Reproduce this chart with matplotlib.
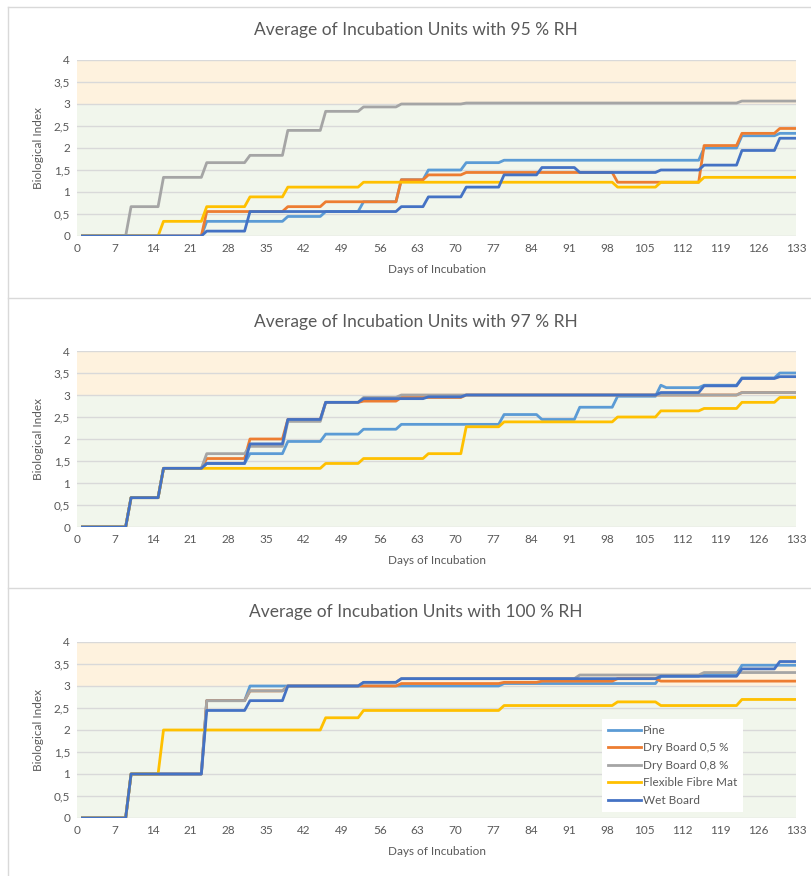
import matplotlib.pyplot as plt
from matplotlib.lines import Line2D

plt.rcParams['font.family'] = ['Lato', 'DejaVu Sans']

W, H = 811, 876

series_names = ['Pine', 'Dry Board 0,5 %', 'Dry Board 0,8 %', 'Flexible Fibre Mat', 'Wet Board']
series_colors = ['#5B9BD5', '#ED7D31', '#A5A5A5', '#FFC000', '#4472C4']
titles = ['Average of Incubation Units with 95 % RH',
          'Average of Incubation Units with 97 % RH',
          'Average of Incubation Units with 100 % RH']
day_ticks = list(range(0, 134, 7))
index_ticks = [0, 0.5, 1, 1.5, 2, 2.5, 3, 3.5, 4]
index_labels = ['0', '0,5', '1', '1,5', '2', '2,5', '3', '3,5', '4']
first_day, last_day = 1, 133

# (day the new value is reached, new value); every series starts at 0
rh95_pine = [(24, 0.333), (39, 0.444), (46, 0.556), (53, 0.778), (60, 1.278), (65, 1.5),
             (72, 1.667), (79, 1.722), (116, 2.0), (123, 2.278), (130, 2.333)]
rh95_dry05 = [(24, 0.556), (39, 0.667), (46, 0.778), (60, 1.278), (65, 1.389), (72, 1.444),
              (100, 1.222), (116, 2.056), (123, 2.333), (130, 2.444)]
rh95_dry08 = [(10, 0.667), (16, 1.333), (24, 1.667), (32, 1.833), (39, 2.4), (46, 2.833),
              (53, 2.933), (60, 3.0), (72, 3.022), (123, 3.067)]
rh95_flex = [(16, 0.333), (24, 0.667), (32, 0.889), (39, 1.111), (53, 1.222), (100, 1.111),
             (108, 1.222), (116, 1.333)]
rh95_wet = [(24, 0.111), (32, 0.556), (60, 0.667), (65, 0.889), (72, 1.111), (79, 1.389),
            (86, 1.556), (93, 1.444), (108, 1.5), (116, 1.611), (123, 1.944), (130, 2.222)]

rh97_pine = [(10, 0.667), (16, 1.333), (24, 1.444), (32, 1.667), (39, 1.944), (46, 2.111),
             (53, 2.222), (60, 2.333), (79, 2.556), (86, 2.444), (93, 2.722), (100, 2.972),
             (108, 3.222), (109, 3.167), (116, 3.222), (123, 3.389), (130, 3.5)]
rh97_dry05 = [(10, 0.667), (16, 1.333), (24, 1.556), (32, 2.0), (39, 2.444), (46, 2.833),
              (53, 2.861), (60, 2.944), (72, 3.0), (123, 3.056)]
rh97_dry08 = [(10, 0.667), (16, 1.333), (24, 1.667), (32, 1.833), (39, 2.4), (46, 2.833),
              (53, 2.944), (60, 3.0), (123, 3.056)]
rh97_flex = [(10, 0.667), (16, 1.333), (46, 1.444), (53, 1.556), (65, 1.667), (72, 2.278),
             (79, 2.389), (100, 2.5), (108, 2.639), (116, 2.694), (123, 2.833), (130, 2.944)]
rh97_wet = [(10, 0.667), (16, 1.333), (24, 1.444), (32, 1.889), (39, 2.444), (46, 2.833),
            (53, 2.917), (65, 2.958), (72, 3.0), (108, 3.056), (116, 3.208), (123, 3.375),
            (130, 3.417)]

rh100_pine = [(10, 1.0), (24, 2.667), (32, 3.0), (79, 3.056), (108, 3.222), (116, 3.278),
              (123, 3.472)]
rh100_dry05 = [(10, 1.0), (24, 2.667), (32, 2.889), (39, 3.0), (60, 3.056), (79, 3.083),
               (86, 3.111), (100, 3.167), (108, 3.111)]
rh100_dry08 = [(10, 1.0), (24, 2.667), (32, 2.889), (39, 3.0), (53, 3.083),
               (60, 3.167), (93, 3.25), (116, 3.306)]
rh100_flex = [(10, 1.0), (16, 2.0), (46, 2.278), (53, 2.444), (79, 2.556), (100, 2.639),
              (108, 2.556), (123, 2.694)]
rh100_wet = [(10, 1.0), (24, 2.444), (32, 2.667), (39, 3.0), (53, 3.083), (60, 3.167),
             (108, 3.222), (123, 3.389), (130, 3.556)]

panels = [
    [rh95_pine, rh95_dry05, rh95_dry08, rh95_flex, rh95_wet],
    [rh97_pine, rh97_dry05, rh97_dry08, rh97_flex, rh97_wet],
    [rh100_pine, rh100_dry05, rh100_dry08, rh100_flex, rh100_wet],
]


def step_line(changes):
    xs, ys = [first_day], [0.0]
    for day, val in changes:
        xs += [day - 1, day]
        ys += [ys[-1], val]
    xs.append(last_day)
    ys.append(ys[-1])
    return xs, ys


fig = plt.figure(figsize=(W / 100, H / 100), dpi=100)
fig.patch.set_facecolor('white')

# panel frames
frame = '#D9D9D9'
fig.add_artist(Line2D([8 / W, 8 / W], [0, 1 - 7 / H], color=frame, lw=1))
for yy in [7, 298, 588]:
    fig.add_artist(Line2D([8 / W, 1], [1 - yy / H, 1 - yy / H], color=frame, lw=1))

text_col = '#595959'
ax_tops = [60, 351, 642]
ax_h = 176
title_y = [30, 322, 612]

for i, data in enumerate(panels):
    top = ax_tops[i]
    ax = fig.add_axes([77 / W, 1 - (top + ax_h) / H, 719 / W, ax_h / H])
    ax.axhspan(0, 3, color='#F1F6EC', zorder=0, lw=0)
    ax.axhspan(3, 4, color='#FEF2DE', zorder=0, lw=0)
    ax.set_axisbelow(True)
    ax.yaxis.grid(True, color='#D9D9D9', lw=1)
    for vals, name, col in zip(data, series_names, series_colors):
        xs, ys = step_line(vals)
        ax.plot(xs, ys, color=col, lw=2, label=name, solid_joinstyle='round', zorder=3)
    ax.set_xlim(0, 133)
    ax.set_ylim(0, 4)
    ax.set_xticks(day_ticks)
    ax.set_yticks(index_ticks)
    ax.set_yticklabels(index_labels)
    ax.tick_params(length=0, labelsize=8.5, colors=text_col, pad=5)
    for s in ax.spines.values():
        s.set_visible(False)
    ax.set_xlabel('Days of Incubation', fontsize=8.5, color=text_col, labelpad=7)
    ax.set_ylabel('Biological Index', fontsize=8.5, color=text_col, labelpad=7)
    fig.text(416 / W, 1 - title_y[i] / H, titles[i], ha='center', va='center',
             fontsize=12.5, color=text_col)
    if i == 2:
        leg = ax.legend(loc='lower left', bbox_to_anchor=(0.725, 0.015), fontsize=8.5,
                        frameon=True, facecolor='white', edgecolor='none', framealpha=1,
                        fancybox=False, handlelength=2.8, handletextpad=0.2,
                        labelspacing=0.55, borderpad=0.5, borderaxespad=0.3)
        for t in leg.get_texts():
            t.set_color(text_col)

fig.savefig('out.png', dpi=100)
